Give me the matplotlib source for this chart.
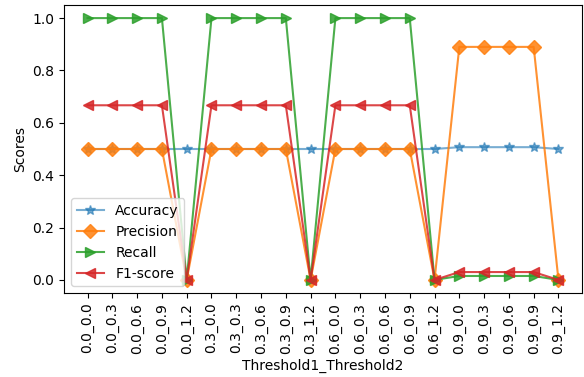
import matplotlib
matplotlib.use("Agg")
import matplotlib.pyplot as plt

labels = ["0.0_0.0", "0.0_0.3", "0.0_0.6", "0.0_0.9", "0.0_1.2",
          "0.3_0.0", "0.3_0.3", "0.3_0.6", "0.3_0.9", "0.3_1.2",
          "0.6_0.0", "0.6_0.3", "0.6_0.6", "0.6_0.9", "0.6_1.2",
          "0.9_0.0", "0.9_0.3", "0.9_0.6", "0.9_0.9", "0.9_1.2"]
accuracy = [0.5, 0.5, 0.5, 0.5, 0.5,
            0.5, 0.5, 0.5, 0.5, 0.5,
            0.5, 0.5, 0.5, 0.5, 0.5,
            0.507, 0.507, 0.507, 0.507, 0.5]
precision = [0.5, 0.5, 0.5, 0.5, 0.0,
             0.5, 0.5, 0.5, 0.5, 0.0,
             0.5, 0.5, 0.5, 0.5, 0.0,
             0.89, 0.89, 0.89, 0.89, 0.0]
recall = [1.0, 1.0, 1.0, 1.0, 0.0,
          1.0, 1.0, 1.0, 1.0, 0.0,
          1.0, 1.0, 1.0, 1.0, 0.0,
          0.015, 0.015, 0.015, 0.015, 0.0]
f1 = [0.667, 0.667, 0.667, 0.667, 0.0,
      0.667, 0.667, 0.667, 0.667, 0.0,
      0.667, 0.667, 0.667, 0.667, 0.0,
      0.03, 0.03, 0.03, 0.03, 0.0]

fig, ax = plt.subplots(figsize=(5.84, 3.77), dpi=100)
fig.subplots_adjust(left=64/584, right=582/584, top=1-5/377, bottom=1-293/377)
x = range(len(labels))
ax.plot(x, accuracy, marker="*", markersize=7, alpha=0.6, label="Accuracy")
ax.plot(x, precision, marker="D", markersize=7, alpha=0.85, label="Precision")
ax.plot(x, recall, marker=">", markersize=7.5, alpha=0.85, label="Recall")
ax.plot(x, f1, marker="<", markersize=7.5, alpha=0.85, label="F1-score")
ax.set_xticks(list(x))
ax.set_xticklabels(labels, rotation=90)
ax.set_xlabel("Threshold1_Threshold2")
ax.set_ylabel("Scores")
ax.legend(loc="lower left")
fig.savefig("out.png", dpi=100)
